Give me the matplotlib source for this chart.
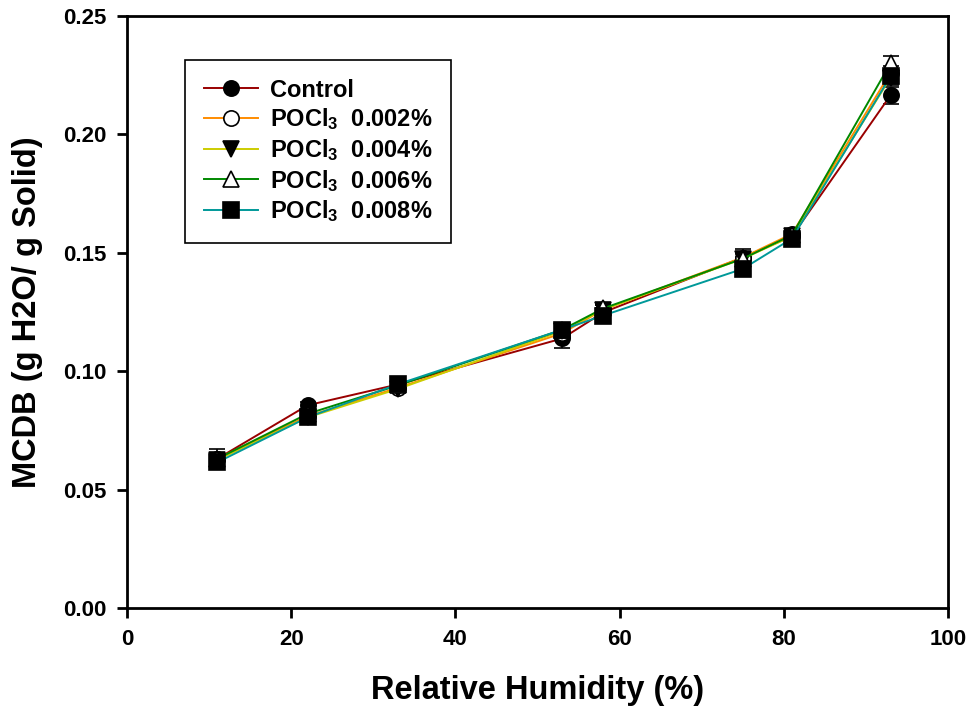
import matplotlib
matplotlib.use("Agg")
import matplotlib.pyplot as plt

plt.rcParams['font.family'] = ['Liberation Sans', 'DejaVu Sans']
plt.rcParams['font.weight'] = 'bold'
plt.rcParams['mathtext.fontset'] = 'custom'
plt.rcParams['mathtext.rm'] = 'Liberation Sans:bold'
plt.rcParams['mathtext.bf'] = 'Liberation Sans:bold'
plt.rcParams['mathtext.default'] = 'rm'

rh = [11, 22, 33, 53, 58, 75, 81, 93]
control = [0.063, 0.0856, 0.0944, 0.1138, 0.1248, 0.148, 0.157, 0.2165]
p002 = [0.063, 0.081, 0.093, 0.116, 0.126, 0.148, 0.158, 0.226]
p004 = [0.0625, 0.0805, 0.0925, 0.117, 0.126, 0.1475, 0.157, 0.224]
p006 = [0.063, 0.082, 0.094, 0.1175, 0.1265, 0.1475, 0.1575, 0.2300]
p008 = [0.0615, 0.0805, 0.0945, 0.1175, 0.1235, 0.1432, 0.156, 0.2245]

err_control = [0.002, 0.0015, 0.0015, 0.004, 0.002, 0.002, 0.002, 0.0035]
err_p002 = [0.002, 0.002, 0.0015, 0.002, 0.002, 0.002, 0.002, 0.003]
err_p004 = [0.002, 0.002, 0.0015, 0.002, 0.002, 0.002, 0.002, 0.003]
err_p006 = [0.004, 0.002, 0.0015, 0.002, 0.002, 0.004, 0.002, 0.003]
err_p008 = [0.003, 0.002, 0.0015, 0.002, 0.002, 0.002, 0.002, 0.003]

labels = ['Control', r'POCl$_{3}$  0.002%', r'POCl$_{3}$  0.004%',
          r'POCl$_{3}$  0.006%', r'POCl$_{3}$  0.008%']
series = [control, p002, p004, p006, p008]
errors = [err_control, err_p002, err_p004, err_p006, err_p008]
colors = ['#990000', '#FF8C00', '#CCCC00', '#008800', '#009999']
markers = ['o', 'o', 'v', '^', 's']
mfaces = ['black', 'white', 'black', 'white', 'black']

fig = plt.figure(figsize=(9.71, 7.13), dpi=100)
ax = fig.add_axes([0.1308, 0.1473, 0.8455, 0.8303])

for ys, es, c, m, mf, lab in zip(series, errors, colors, markers, mfaces, labels):
    ax.errorbar(rh, ys, yerr=es, fmt='none', ecolor='black', elinewidth=1.2,
                capsize=6, capthick=1.2, zorder=3)
    ax.plot(rh, ys, color=c, lw=1.4, marker=m, markersize=11,
            markerfacecolor=mf, markeredgecolor='black', markeredgewidth=1.2,
            label=lab, zorder=4)

ax.set_xlim(0, 100)
ax.set_ylim(0, 0.25)
ax.set_xticks([0, 20, 40, 60, 80, 100])
ax.set_yticks([0.0, 0.05, 0.10, 0.15, 0.20, 0.25])
ax.set_yticklabels(['0.00', '0.05', '0.10', '0.15', '0.20', '0.25'])
ax.tick_params(direction='out', length=7, width=2, labelsize=16, pad=8)
for lbl in ax.get_xticklabels() + ax.get_yticklabels():
    lbl.set_fontweight('bold')
for sp in ax.spines.values():
    sp.set_linewidth(2)

ax.set_xlabel('Relative Humidity (%)', fontsize=23.5, fontweight='bold', labelpad=18)
ax.set_ylabel('MCDB (g H2O/ g Solid)', fontsize=23.5, fontweight='bold', labelpad=14)

leg = ax.legend(loc='upper left', bbox_to_anchor=(0.0706, 0.926), borderaxespad=0,
                fancybox=False, edgecolor='black', framealpha=1, handlelength=2.3,
                borderpad=0.8, labelspacing=0.2, handletextpad=0.5,
                prop={'weight': 'bold', 'size': 17})
leg.get_frame().set_linewidth(1.2)

fig.savefig('out.png', dpi=100)
